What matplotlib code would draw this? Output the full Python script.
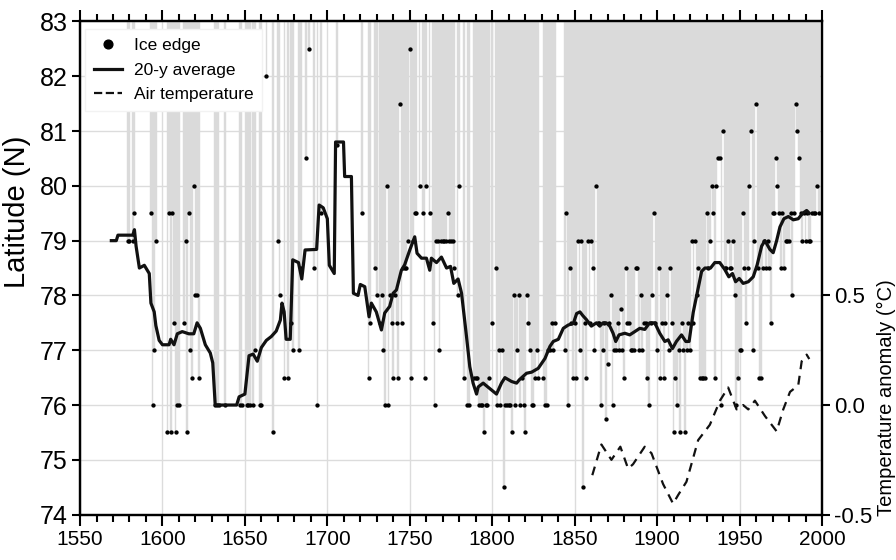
import matplotlib
matplotlib.use("Agg")
import matplotlib.pyplot as plt
from matplotlib.ticker import MultipleLocator

# annual ice-edge latitude (years with an observation only)
ice_years = [
    1579, 1580, 1582, 1583, 1593, 1594, 1595, 1596,
    1603, 1604, 1605, 1606, 1607, 1608, 1609, 1610, 1613, 1614, 1615, 1616,
    1617, 1618, 1619, 1620, 1621, 1622, 1632, 1633, 1634, 1638, 1647, 1648,
    1651, 1652, 1653, 1655, 1656, 1659, 1660, 1663, 1667, 1670, 1671, 1674,
    1676, 1678, 1679, 1683, 1684, 1687, 1689, 1692, 1694, 1696,
    1706, 1721, 1725, 1726, 1729, 1730,
    1732, 1733, 1734, 1735, 1736, 1737, 1738, 1739, 1740, 1741, 1742, 1743,
    1744, 1745, 1746, 1747, 1748, 1749, 1750, 1751, 1752, 1753,
    1754, 1756, 1758, 1759, 1760, 1762, 1764, 1765, 1766, 1767, 1768, 1769,
    1770, 1771, 1772, 1773, 1774, 1775, 1776, 1777, 1779, 1780, 1783, 1785, 1786,
    1789, 1790, 1791, 1792, 1793, 1794, 1795, 1796, 1797, 1798, 1800,
    1802, 1803, 1804, 1805, 1806, 1807, 1808, 1809, 1810, 1811, 1812, 1813,
    1814, 1815, 1816, 1817, 1818, 1819, 1820, 1821, 1822, 1823, 1824, 1825,
    1826, 1827, 1828, 1831, 1832, 1833, 1834, 1835, 1836, 1837, 1838,
    1844, 1845, 1846, 1847, 1848, 1849, 1850, 1851, 1852, 1853,
    1854, 1855, 1856, 1857, 1858, 1859, 1860, 1861, 1862, 1863, 1864, 1865,
    1866, 1867, 1868, 1869, 1870, 1871, 1872, 1873, 1874, 1875, 1876, 1877,
    1878, 1879, 1880, 1881, 1882, 1883, 1884, 1885, 1886, 1887, 1888, 1889,
    1890, 1891, 1892, 1893, 1894, 1895, 1896, 1897, 1898, 1899, 1900, 1901,
    1902, 1903, 1904, 1905, 1906, 1907, 1908, 1909, 1910, 1911, 1912, 1913,
    1914, 1915, 1916, 1917, 1918, 1919, 1920, 1921, 1922, 1923, 1924, 1925,
    1926, 1927, 1928, 1929, 1930, 1931, 1932, 1933, 1934, 1935, 1936, 1937,
    1938, 1939, 1940, 1941, 1942, 1943, 1944, 1945, 1946, 1947, 1948, 1949,
    1950, 1951, 1952, 1953, 1954, 1955, 1956, 1957, 1958, 1959, 1960, 1961,
    1962, 1963, 1964, 1965, 1966, 1967, 1968, 1969, 1970, 1971, 1972, 1973,
    1974, 1975, 1976, 1977, 1978, 1979, 1980, 1981, 1982, 1983, 1984, 1985,
    1986, 1987, 1988, 1989, 1990, 1991, 1992, 1993, 1994, 1995, 1996, 1997, 1998,
]
ice_lat = [
    79.0, 79.0, 79.0, 79.5, 79.5, 76.0, 77.0, 79.0,
    75.5, 79.5, 75.5, 79.5, 77.5, 75.5, 76.0, 76.0, 77.5, 79.0, 75.5, 79.5,
    77.0, 76.5, 80.0, 78.0, 78.0, 76.5, 76.0, 76.0, 76.0, 76.0, 76.0, 76.0,
    76.0, 76.0, 76.0, 76.0, 77.0, 76.0, 76.0, 82.0, 75.5, 79.0, 78.0, 76.5,
    76.5, 77.5, 77.0, 77.0, 78.5, 80.5, 82.5, 78.5, 76.0, 79.5,
    80.75, 79.5, 76.5, 77.5, 78.5, 78.0,
    77.5, 78.0, 77.0, 76.0, 80.0, 76.0, 78.0, 77.5, 76.5, 78.0, 77.5, 76.5,
    81.5, 77.5, 78.5, 78.5, 78.5, 79.0, 82.5, 76.5, 79.0, 79.5,
    79.5, 80.0, 79.5, 76.5, 80.0, 79.5, 77.5, 76.0, 79.0, 79.0, 77.0, 79.0,
    79.0, 79.0, 79.0, 79.5, 79.0, 79.0, 79.0, 78.5, 78.0, 80.0, 76.5, 76.0, 76.0,
    76.5, 76.5, 76.5, 76.0, 76.0, 76.0, 75.5, 76.0, 76.0, 76.5, 77.5,
    78.5, 76.0, 77.0, 76.0, 77.0, 74.5, 76.0, 76.0, 76.0, 76.0, 75.5, 78.0,
    76.0, 77.0, 78.0, 76.0, 76.5, 76.0, 75.5, 78.0, 77.5, 77.0, 76.0, 76.0,
    76.5, 77.0, 76.5, 76.5, 76.0, 76.0, 77.0, 77.0, 77.5, 77.0, 77.5,
    77.0, 79.5, 76.0, 78.5, 77.5, 76.5, 77.5, 76.5, 79.0, 77.0,
    79.0, 74.5, 77.5, 76.5, 79.0, 77.5, 79.0, 78.5, 77.0, 80.0, 77.5, 77.5,
    76.0, 77.0, 77.5, 75.75, 76.75, 77.5, 78.0, 76.0, 77.0, 77.0, 77.5, 77.0,
    77.75, 77.0, 76.5, 78.5, 77.5, 77.5, 77.0, 77.0, 77.0, 78.5, 78.5, 77.0,
    78.0, 77.0, 77.5, 77.5, 76.5, 76.0, 77.5, 78.0, 79.5, 77.5, 77.0, 78.5,
    76.5, 77.5, 76.5, 77.5, 78.0, 77.0, 78.5, 77.5, 75.5, 76.5, 76.0, 77.0,
    75.5, 77.5, 77.0, 75.5, 77.0, 77.5, 77.0, 79.0, 77.5, 79.0, 78.0, 78.5,
    76.5, 76.5, 76.5, 76.5, 79.5, 78.5, 79.0, 80.0, 79.5, 76.5, 80.0, 80.5,
    80.5, 76.0, 81.0, 78.5, 78.5, 79.0, 78.5, 78.5, 79.0, 78.0, 76.0, 76.5,
    77.0, 77.0, 79.5, 78.5, 77.5, 78.5, 80.0, 81.0, 77.0, 79.0, 81.5, 78.5,
    76.5, 76.5, 78.5, 79.0, 78.5, 79.0, 78.5, 77.5, 79.5, 79.5, 80.5, 80.0,
    79.5, 78.5, 79.5, 78.5, 79.0, 79.0, 79.0, 79.5, 78.0, 79.5, 81.5, 81.0,
    80.5, 79.5, 79.0, 79.5, 79.0, 79.5, 79.0, 79.0, 79.5, 79.5, 79.5, 80.0, 79.5,
]

# 20-year running mean
avg_years = [
    1569, 1572, 1573, 1578, 1582, 1583, 1584, 1586, 1589, 1592, 1593, 1595,
    1596, 1598, 1600, 1604, 1605, 1607, 1609, 1612, 1616, 1619, 1621, 1623,
    1626, 1629, 1630.5, 1632, 1645, 1646.5, 1650, 1652.5, 1655, 1657.5, 1660,
    1663, 1666, 1669, 1671.5, 1672.5, 1673.8, 1675, 1677.5, 1679, 1682.5,
    1684.5, 1686.5, 1693.5, 1695, 1697.5, 1700, 1701.2, 1704.2, 1705, 1709.8,
    1710.5, 1714.6, 1715.8, 1718.6, 1720, 1722.7, 1725.3, 1726.7, 1729.7,
    1732.8, 1734.8, 1737.8, 1739.9, 1741.9, 1744.9, 1746.9, 1750, 1753,
    1754.4, 1757.1, 1760.1, 1762.1, 1763.1, 1766.2, 1769.2, 1772.3, 1774.7,
    1776.7, 1779.3, 1781.4, 1784.4, 1786.4, 1788.4, 1790.5, 1791.5, 1794.5,
    1798.6, 1802.6, 1805.6, 1807.7, 1811.7, 1814.8, 1816.4, 1820.8, 1823.9,
    1827.9, 1832, 1835, 1837, 1840.1, 1843.1, 1846.1, 1849.2, 1851.2, 1853.2,
    1855, 1857.1, 1860.1, 1863.2, 1865.2, 1867.2, 1869.2, 1871.3, 1873.3,
    1874.9, 1876.9, 1880.4, 1883.4, 1886.4, 1889.5, 1892.5, 1895.5, 1898.6,
    1901.6, 1904.7, 1906.7, 1909.3, 1911.7, 1914.8, 1917.4, 1919.4, 1921.9,
    1924.9, 1927, 1929, 1932.4, 1935, 1938, 1941.1, 1943.5, 1945.7, 1947.6,
    1949.8, 1952.2, 1955.3, 1958.3, 1960.7, 1963.4, 1965.4, 1968.4, 1970.4,
    1972.5, 1974.5, 1976.9, 1979.6, 1982.6, 1985.6, 1988.3, 1990.7, 1992.3,
]
avg_lat = [
    79.0, 79.0, 79.1, 79.1, 79.1, 79.2, 78.9, 78.5, 78.55, 78.4, 77.86, 77.7,
    77.45, 77.18, 77.1, 77.1, 77.2, 77.1, 77.3, 77.34, 77.3, 77.3, 77.5, 77.4,
    77.1, 76.95, 76.77, 76.0, 76.0, 76.15, 76.2, 76.9, 76.93, 76.8, 77.05,
    77.18, 77.25, 77.35, 77.55, 77.86, 77.7, 77.2, 77.2, 78.65, 78.6,
    78.3, 78.83, 78.84, 79.65, 79.6, 79.4, 78.55, 78.4, 80.8, 80.8,
    80.17, 80.17, 78.04, 78.0, 78.2, 78.16, 77.61, 77.86, 77.7,
    77.37, 77.68, 77.8, 78.04, 78.1, 78.46, 78.56, 78.83, 79.07,
    78.77, 78.68, 78.68, 78.46, 78.68, 78.6, 78.7, 78.5, 78.53,
    78.22, 78.3, 78.04, 77.25, 76.7, 76.4, 76.2, 76.33, 76.4,
    76.3, 76.2, 76.4, 76.5, 76.43, 76.4, 76.46, 76.58, 76.6,
    76.67, 76.85, 77.07, 77.16, 77.2, 77.4, 77.46, 77.49, 77.67, 77.7,
    77.63, 77.56, 77.44, 77.5, 77.44, 77.5, 77.5, 77.44, 77.31,
    77.16, 77.28, 77.31, 77.28, 77.34, 77.4, 77.38, 77.5, 77.5,
    77.31, 77.16, 77.19, 77.03, 77.16, 77.28, 77.16, 77.16, 77.69,
    78.13, 78.44, 78.5, 78.5, 78.6, 78.6, 78.47, 78.34, 78.4, 78.25,
    78.31, 78.22, 78.25, 78.34, 78.56, 78.9, 79.0, 78.84, 78.78,
    79.0, 79.25, 79.4, 79.44, 79.38, 79.4, 79.5, 79.55, 79.5,
]

# air temperature anomaly (deg C)
temp_years = [
    1860.7, 1866.2, 1872.3, 1877.7, 1882.4, 1885.4, 1892.5, 1896.6, 1903.6,
    1909.7, 1912.8, 1917.8, 1924.9, 1932, 1938.1, 1943.1, 1948.2, 1952.2,
    1955.3, 1959.3, 1965.4, 1972.5, 1976.5, 1980.6, 1985.6, 1987.7, 1990.7,
    1992.3,
]
temp_vals = [
    -0.32, -0.18, -0.25, -0.19, -0.29, -0.27, -0.19, -0.22, -0.36,
    -0.45, -0.41, -0.35, -0.16, -0.09, 0.02, 0.08, -0.02, 0.0,
    -0.02, 0.02, -0.05, -0.12, -0.02, 0.06, 0.09, 0.20, 0.23,
    0.21,
]

plt.rcParams["font.family"] = ["Liberation Sans", "DejaVu Sans"]

fig = plt.figure(figsize=(8.96, 5.6), dpi=100)
ax = fig.add_axes([0.0893, 0.081, 0.8281, 0.8807])

top = 83.0
ax.bar(ice_years, [top + 1 - v for v in ice_lat], bottom=ice_lat, width=1.0,
       color="#dadada", edgecolor="#dadada", linewidth=0.3, zorder=1)
ax.plot(ice_years, ice_lat, "o", color="black", markersize=2.1, zorder=3,
        label="Ice edge")
ax.plot(avg_years, avg_lat, "-", color="#111111", linewidth=2.3, zorder=4,
        label="20-y average")
ax.plot([], [], "--", color="#111111", linewidth=1.6, label="Air temperature")

ax.set_xlim(1550, 2000)
ax.set_ylim(74, 83)
ax.xaxis.set_major_locator(MultipleLocator(50))
ax.xaxis.set_minor_locator(MultipleLocator(10))
ax.yaxis.set_major_locator(MultipleLocator(1))
ax.grid(True, which="major", color="#dcdcdc", linewidth=1.0, zorder=0)
ax.set_axisbelow(True)
ax.tick_params(axis="x", which="major", direction="out", length=8, width=1.5,
               top=True, labelsize=15, pad=3)
ax.tick_params(axis="x", which="minor", direction="out", length=5, width=1.5,
               top=True)
ax.tick_params(axis="y", which="major", direction="out", length=6, width=1.5,
               labelsize=18, pad=3)
for s in ax.spines.values():
    s.set_linewidth(1.6)

ax.text(-0.085, 0.615, "Latitude (N)", transform=ax.transAxes, rotation=90,
        ha="center", va="center", fontsize=21)

ax.legend(loc="upper left", bbox_to_anchor=(0.0, 0.995), fontsize=12.5,
          markerscale=3.0, handlelength=1.6, frameon=True, fancybox=False,
          edgecolor="#f2f2f2", framealpha=1.0, borderaxespad=0.3,
          labelspacing=0.55, handletextpad=0.7, borderpad=0.5)

ax2 = ax.twinx()
ax2.set_ylim(-0.5, 1.75)
ax2.plot(temp_years, temp_vals, "--", color="#111111", linewidth=1.6,
         dashes=(4, 3), zorder=5)
ax2.set_yticks([-0.5, 0.0, 0.5])
ax2.set_yticklabels(["-0.5", "0.0", "0.5"])
ax2.tick_params(axis="y", direction="out", length=6, width=1.5, labelsize=16,
                pad=3)
for s in ax2.spines.values():
    s.set_linewidth(1.6)
ax2.text(1.087, 0.237, "Temperature anomaly (\u00b0C)", transform=ax2.transAxes,
         rotation=90, ha="center", va="center", fontsize=14.5)

fig.savefig("out.png", dpi=100, facecolor="white")
